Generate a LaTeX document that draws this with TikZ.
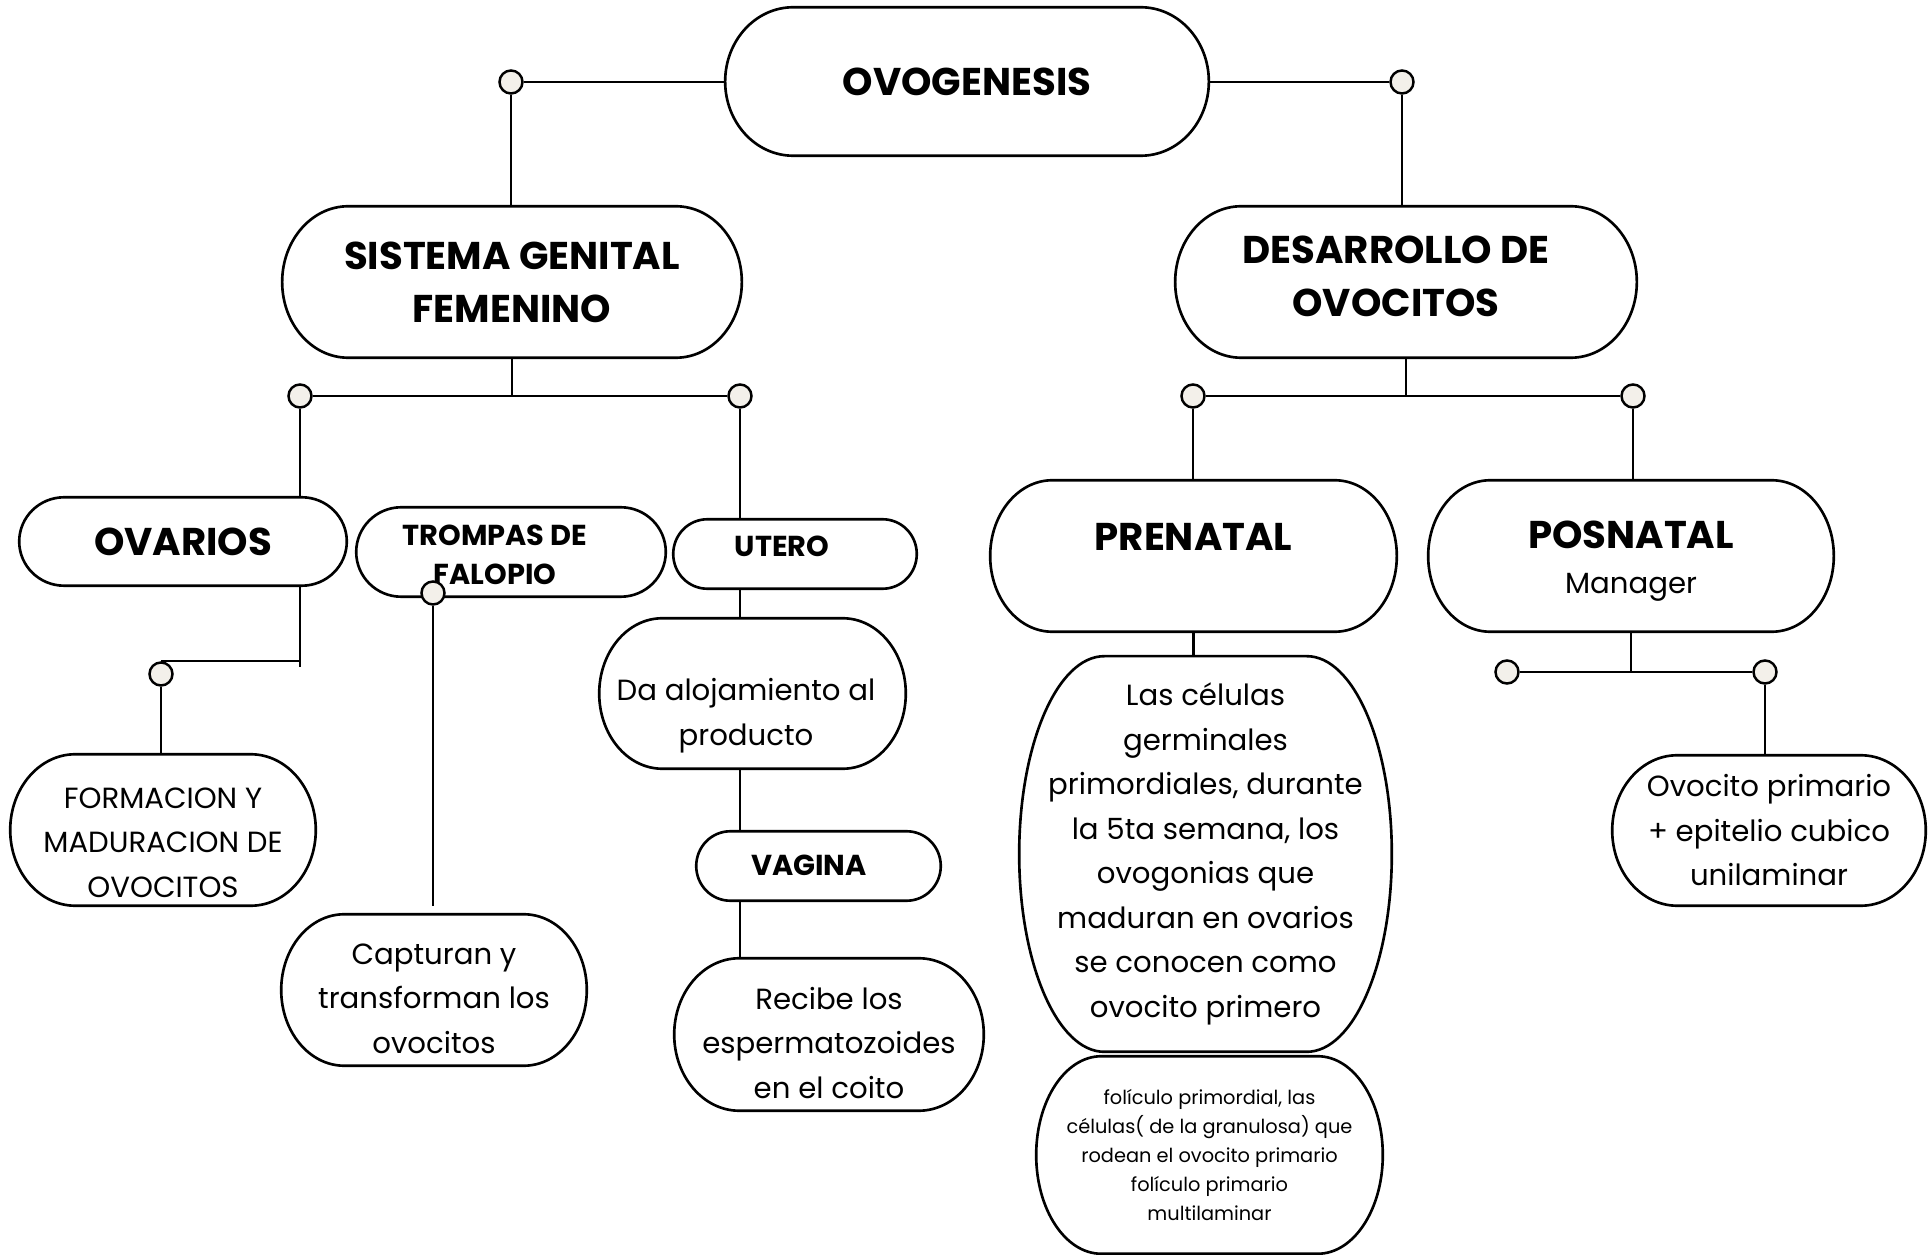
\documentclass[tikz,border=0pt]{standalone}
\usepackage{fontspec}
\setmainfont{Poppins}
\usetikzlibrary{calc}
\definecolor{dotfill}{HTML}{F3F0EA}
\tikzset{
  pill/.style 2 args={minimum width=#1cm, minimum height=#2cm, inner sep=0pt, align=center},
  dot/.style={circle, draw, line width=0.7pt, fill=dotfill, minimum size=0.23cm, inner sep=0pt},
  link/.style={line width=0.6pt},
  rim/.style={line width=0.75pt},
  txt/.style={align=center, inner sep=0pt},
  bigb/.style={font=\fontsize{11}{15.1}\selectfont\bfseries},
  midb/.style={font=\fontsize{8.2}{11.1}\selectfont\bfseries},
  body/.style={font=\fontsize{8.3}{12.66}\selectfont},
  fine/.style={font=\fontsize{5.5}{8.25}\selectfont}
}
\begin{document}
\begin{tikzpicture}[x=0.01cm, y=-0.01cm]
    \useasboundingbox (0,0) rectangle (1929,1255);
    % 主题
    \node[pill={4.82}{1.47}, bigb] (ovo) at (967,81.5) {OVOGENESIS};
    % 第二层
    \node[pill={4.58}{1.50}, bigb] (sis) at (512,282) {SISTEMA GENITAL\\FEMENINO};
    \node[pill={4.60}{1.50}] (des) at (1406,282) {};
    \node[txt, bigb] at ([xshift=-0.10cm, yshift=0.055cm]des) {DESARROLLO DE\\OVOCITOS};
    % 器官
    \node[pill={3.26}{0.87}, bigb] (ova) at (183,541.5) {OVARIOS};
    \node[pill={3.08}{0.88}] (tro) at (511,552) {};
    \node[txt, midb] at ([xshift=-0.16cm, yshift=-0.025cm]tro) {TROMPAS DE\\FALOPIO};
    \node[pill={2.42}{0.68}] (ute) at (795,554) {};
    \node[txt, midb] at ([xshift=-0.13cm, yshift=0.08cm]ute) {UTERO};
    \node[pill={3.05}{1.49}] (dal) at (752.5,693.5) {};
    \node[txt, body] at ([xshift=-0.065cm, yshift=-0.22cm]dal) {Da alojamiento al\\producto};
    \node[pill={2.43}{0.68}] (vag) at (818.5,866) {};
    \node[txt, midb] at ([xshift=-0.095cm, yshift=0.01cm]vag) {VAGINA};
    \node[pill={3.04}{1.50}] (form) at (163,830) {};
    \node[txt, body] at ([yshift=-0.125cm]form) {FORMACION Y\\MADURACION DE\\OVOCITOS};
    \node[pill={3.04}{1.50}] (cap) at (434,990) {};
    \node[txt, body] at ([yshift=-0.085cm]cap) {Capturan y\\transforman los\\ovocitos};
    \node[pill={3.08}{1.51}] (rec) at (829,1034.5) {};
    \node[txt, body] at ([yshift=-0.085cm]rec) {Recibe los\\espermatozoides\\en el coito};
    % 发育
    \node[pill={4.05}{1.50}] (pre) at (1193.5,556) {};
    \node[txt, bigb] at ([yshift=0.19cm]pre) {PRENATAL};
    \node[pill={4.04}{1.50}] (pos) at (1631,556) {};
    \node[txt, body] at ([yshift=-0.05cm]pos) {{\fontsize{11}{15.1}\selectfont\bfseries POSNATAL}\\Manager};
    \node[pill={3.71}{3.94}, body] (cel) at (1205.5,854) {Las células\\germinales\\primordiales, durante\\la 5ta semana, los\\ovogonias que\\maduran en ovarios\\se conocen como\\ovocito primero};
    \node[pill={3.45}{1.96}, fine] (fol) at (1209.5,1155) {folículo primordial, las\\células( de la granulosa) que\\rodean el ovocito primario\\folículo primario\\multilaminar};
    \node[pill={3.12}{1.49}, body] (ocp) at (1769,830.5) {Ovocito primario\\+ epitelio cubico\\unilaminar};
    % 边框
    \foreach \nm/\rx in {ovo/0.68, sis/0.66, des/0.66, ova/0.45, tro/0.45, ute/0.34,
        dal/0.63, vag/0.34, form/0.65, cap/0.63, rec/0.65, pre/0.62, pos/0.62,
        cel/0.85, fol/0.65, ocp/0.65}
      \draw[rim] let \p1=(\nm.north west), \p2=(\nm.south east), \n1={(\y1-\y2)/2} in
        (\x1+\rx*1cm,\y1) -- (\x2-\rx*1cm,\y1)
        arc[start angle=90, end angle=-90, x radius=\rx*1cm, y radius=\n1*1pt]
        -- (\x1+\rx*1cm,\y2)
        arc[start angle=270, end angle=90, x radius=\rx*1cm, y radius=\n1*1pt] -- cycle;
    % 圆点
    \node[dot] (d1) at (511,82) {};
    \node[dot] (d2) at (1402,82) {};
    \node[dot] (d3) at (300,396) {};
    \node[dot] (d4) at (740,396) {};
    \node[dot] (d5) at (161,674) {};
    \node[dot] (d6) at (433,593) {};
    \node[dot] (d7) at (1193,396) {};
    \node[dot] (d8) at (1633,396) {};
    \node[dot] (d9) at (1507,672) {};
    \node[dot] (d10) at (1765,672) {};
    \coordinate (tend) at (433,906);
    % 连线
    \draw[link] (d1.east) -- (d1.east -| ovo.west) (d1.south) -- (d1.south |- sis.north);
    \draw[link] (d2.west) -- (d2.west -| ovo.east) (d2.south) -- (d2.south |- des.north);
    \draw[link] (sis.south) -- (sis.south |- d3) (d3.east) -- (d4.west);
    \draw[link] (d3.south) -- (d3.south |- ova.north);
    \draw[link] (d4.south) -- (d4.south |- ute.north);
    \draw[link] (d3 |- ova.south) -- ([yshift=-0.06cm]d3 |- d5.north) (d5.north) -- (d5.north -| d3);
    \draw[link] (d5.south) -- (d5.south |- form.north);
    \draw[link] (d6.south) -- (tend);
    \draw[link] (d4 |- ute.south) -- (d4 |- dal.north) (d4 |- dal.south) -- (d4 |- vag.north)
        (d4 |- vag.south) -- (d4 |- rec.north);
    \draw[link] (des.south) -- (des.south |- d7) (d7.east) -- (d8.west);
    \draw[link] (d7.south) -- (d7.south |- pre.north) (d8.south) -- (d8.south |- pos.north);
    \draw[link] (pre.south) -- (pre.south |- cel.north);
    \draw[link] (pos.south) -- (pos.south |- d9) (d9.east) -- (d10.west);
    \draw[link] (d10.south) -- (d10.south |- ocp.north);
\end{tikzpicture}
\end{document}
